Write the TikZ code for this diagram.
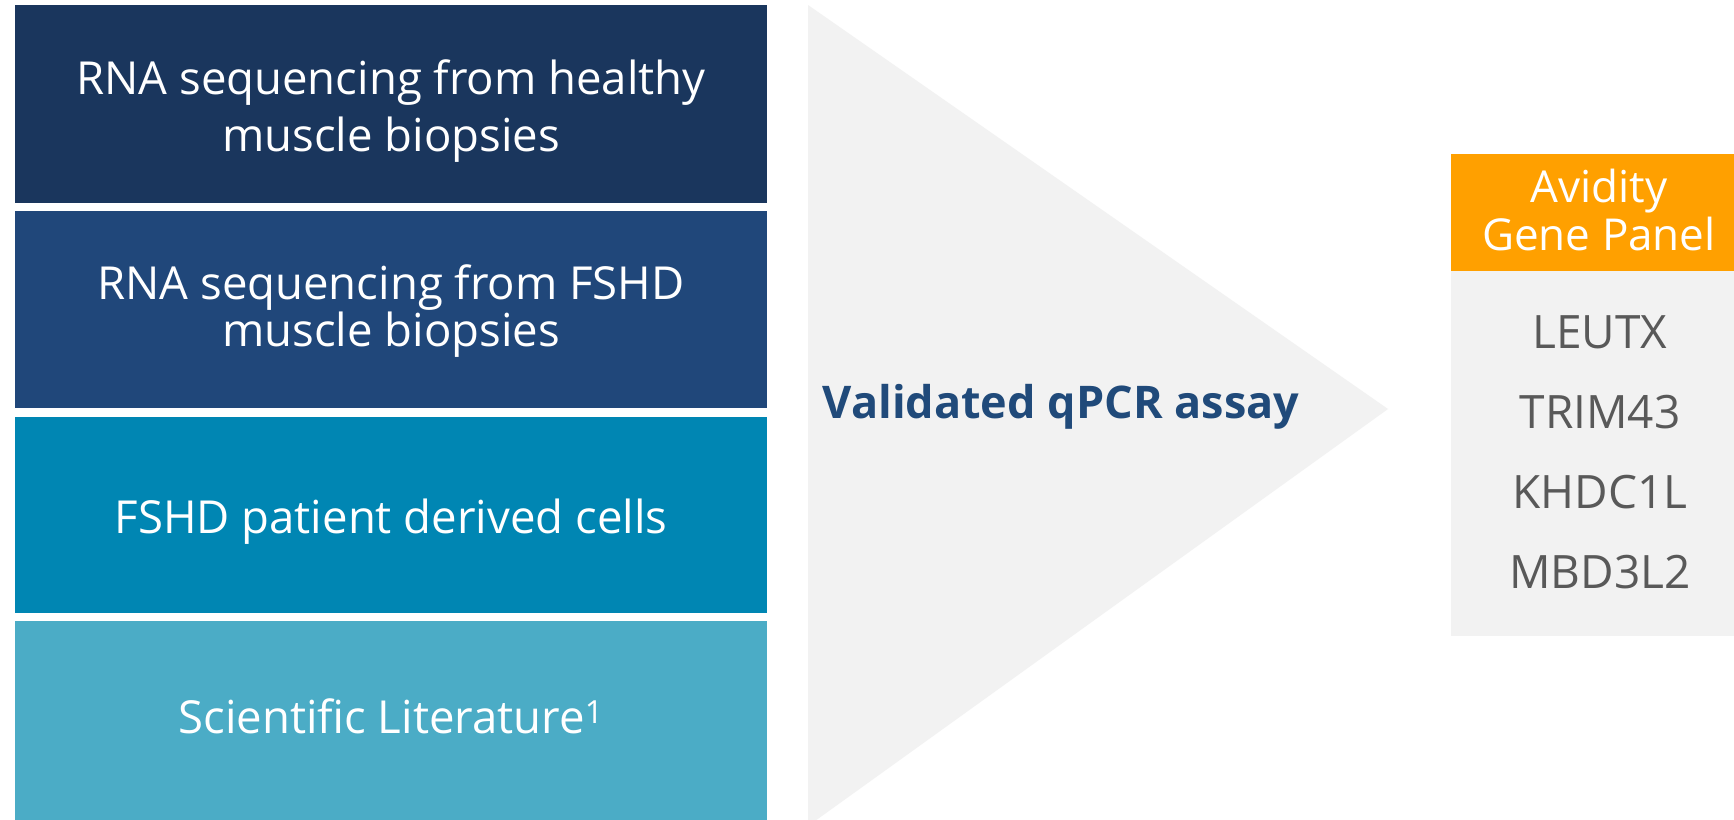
\documentclass[tikz,border=0pt]{standalone}
\usepackage{fontspec}
\setmainfont{Open Sans}
\usetikzlibrary{positioning}
\definecolor{boxA}{HTML}{1A365D}
\definecolor{boxB}{HTML}{20477A}
\definecolor{boxC}{HTML}{0086B3}
\definecolor{boxD}{HTML}{4BACC6}
\definecolor{lightgray}{HTML}{F2F2F2}
\definecolor{panelorange}{HTML}{FFA000}
\definecolor{genegray}{HTML}{595959}
\definecolor{assayblue}{HTML}{204A7A}
\tikzset{
  srctext/.style={text=white, anchor=base, inner sep=0pt, font=\fontsize{45.5}{54}\selectfont},
  genetext/.style={text=genegray, anchor=base, inner sep=0pt, font=\fontsize{46}{54}\selectfont},
  headtext/.style={text=white, anchor=base, inner sep=0pt, font=\fontsize{44}{52}\selectfont},
}
\begin{document}
\begin{tikzpicture}[x=1pt,y=-1pt]
\useasboundingbox (0,0) rectangle (1734,819);
\clip (0,0) rectangle (1734,819);
\fill[white] (0,0) rectangle (1734,819);
% source boxes
\fill[boxA] (15,5) rectangle (767,203);
\fill[boxB] (15,211) rectangle (767,408);
\fill[boxC] (15,417) rectangle (767,613);
\fill[boxD] (15,621) rectangle (767,830);
\node[srctext] (t1a) at (391,94) {RNA sequencing from healthy};
\node[srctext] (t1b) at (391,151) {muscle biopsies};
\node[srctext] (t2a) at (391,299) {RNA sequencing from FSHD};
\node[srctext] (t2b) at (391,346) {muscle biopsies};
\node[srctext] (t3) at (391,533) {FSHD patient derived cells};
\node[srctext] (t4) at (391,733) {Scientific Literature\textsuperscript{1}};
% big arrow triangle
\fill[lightgray] (808,5) -- (1388,409) -- (808,826) -- cycle;
\node[anchor=base, inner sep=0pt, text=assayblue, font=\fontsize{45}{52}\selectfont\bfseries] (assay) at (1061,418) {Validated qPCR assay};
% panel
\fill[panelorange] (1451,154) rectangle (1745,271);
\fill[lightgray] (1451,271) rectangle (1745,636);
\node[headtext] (h1) at (1599,202) {Avidity};
\node[headtext] (h2) at (1599,250) {Gene Panel};
\node[genetext] (g1) at (1600,348) {LEUTX};
\node[genetext] (g2) at (1600,428) {TRIM43};
\node[genetext] (g3) at (1600,508) {KHDC1L};
\node[genetext] (g4) at (1600,588) {MBD3L2};
\end{tikzpicture}
\end{document}
